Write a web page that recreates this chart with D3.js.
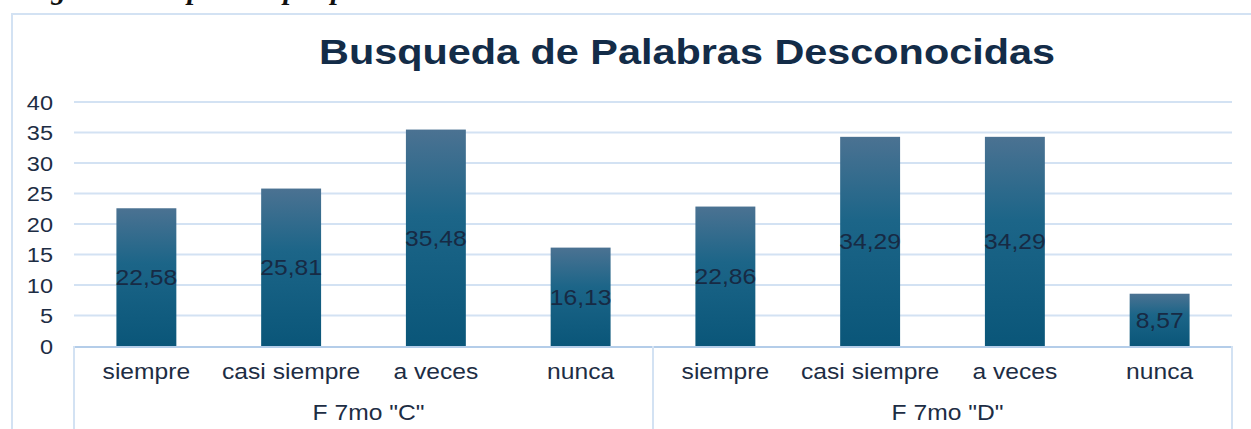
<!DOCTYPE html>
<html lang="es">

<head>
    <meta charset="UTF-8">
    <title>Busqueda de Palabras Desconocidas</title>
    <style>
        body {
            margin: 0;
            background: #fff;
        }
        svg {
            display: block;
        }
    </style>
</head>

<body>
    <script src="https://cdn.jsdelivr.net/npm/d3@7"></script>
    <script>
        // données
        const groupes = ['F 7mo "C"', 'F 7mo "D"']
        const categories = ['siempre', 'casi siempre', 'a veces', 'nunca']
        const valeursC = [22.58, 25.81, 35.48, 16.13]
        const valeursD = [22.86, 34.29, 34.29, 8.57]
        const ticksY = [0, 5, 10, 15, 20, 25, 30, 35, 40]
        const titre = 'Busqueda de Palabras Desconocidas'
        const legendeFigure = 'Figura 5. Respuestas por paralelo'

        const donnees = []
        groupes.forEach((g, gi) => {
            const vals = gi === 0 ? valeursC : valeursD
            categories.forEach((c, ci) => donnees.push({ groupe: g, cat: c, valeur: vals[ci] }))
        })

        const largeur = 1251, hauteur = 429
        const gauche = 74, droite = 1232, bas = 346, haut = 102
        const etirement = 1.12   // le texte de l'image est un peu étiré en largeur
        const couleurTexte = '#1d2d44'
        const couleurGrille = '#d3e2f3'

        const canevas = d3.select('body')
            .append('svg')
            .attr('width', largeur)
            .attr('height', hauteur)

        // dégradé des barres
        const degrade = canevas.append('defs').append('linearGradient')
            .attr('id', 'degrade')
            .attr('x1', 0).attr('y1', 0).attr('x2', 0).attr('y2', 1)
        degrade.append('stop').attr('offset', '0%').attr('stop-color', '#4b7292')
        degrade.append('stop').attr('offset', '40%').attr('stop-color', '#1c6588')
        degrade.append('stop').attr('offset', '100%').attr('stop-color', '#0a5679')

        // échelles
        const echelleY = d3.scaleLinear()
            .domain([0, 40])
            .range([bas, haut])

        const echelleGroupe = d3.scaleBand()
            .domain(groupes)
            .range([gauche, droite])

        const echelleCat = d3.scaleBand()
            .domain(categories)
            .range([0, echelleGroupe.bandwidth()])
            .paddingInner(0.586)
            .paddingOuter(0.293)

        // texte étiré autour de son point d'ancrage
        function placer(sel, x, y, sx) {
            sel.attr('transform', (d, i) => `translate(${x(d, i)},${y(d, i)}) scale(${sx},1)`)
        }

        // cadre du graphique
        canevas.append('rect')
            .attr('x', 12).attr('y', 14)
            .attr('width', 1300).attr('height', 500)
            .attr('fill', 'none')
            .attr('stroke', couleurGrille)
            .attr('stroke-width', 2)

        // légende de la figure (coupée en haut de l'image)
        canevas.append('text')
            .attr('x', 24).attr('y', -1)
            .attr('font-family', 'Liberation Serif, DejaVu Serif, serif')
            .attr('font-weight', 'bold')
            .attr('font-style', 'italic')
            .attr('font-size', 29)
            .attr('fill', '#111')
            .text(legendeFigure)

        // titre
        canevas.append('text')
            .attr('text-anchor', 'middle')
            .attr('font-family', 'Liberation Sans, Arial, sans-serif')
            .attr('font-weight', 'bold')
            .attr('font-size', 36)
            .attr('fill', '#132c48')
            .attr('transform', `translate(687,64) scale(1.15,1)`)
            .text(titre)

        // grille horizontale
        canevas.append('g').selectAll('line')
            .data(ticksY.filter(t => t > 0))
            .enter()
            .append('line')
            .attr('x1', gauche).attr('x2', droite)
            .attr('y1', d => echelleY(d)).attr('y2', d => echelleY(d))
            .attr('stroke', couleurGrille)
            .attr('stroke-width', 2)

        // étiquettes de l'axe Y
        canevas.append('g').selectAll('text')
            .data(ticksY)
            .enter()
            .append('text')
            .attr('text-anchor', 'end')
            .attr('dy', '0.36em')
            .attr('font-family', 'Liberation Sans, Arial, sans-serif')
            .attr('font-size', 21)
            .attr('fill', couleurTexte)
            .call(placer, () => 53, d => echelleY(d), etirement)
            .text(d => d)

        // barres
        const xBarre = d => echelleGroupe(d.groupe) + echelleCat(d.cat)
        canevas.append('g').selectAll('rect')
            .data(donnees)
            .enter()
            .append('rect')
            .attr('x', xBarre)
            .attr('y', d => echelleY(d.valeur))
            .attr('width', echelleCat.bandwidth())
            .attr('height', d => bas - echelleY(d.valeur))
            .attr('fill', 'url(#degrade)')

        // étiquettes de valeurs au milieu des barres
        canevas.append('g').selectAll('text')
            .data(donnees)
            .enter()
            .append('text')
            .attr('text-anchor', 'middle')
            .attr('dy', '0.36em')
            .attr('font-family', 'Liberation Sans, Arial, sans-serif')
            .attr('font-size', 22)
            .attr('fill', '#172a44')
            .call(placer,
                d => xBarre(d) + echelleCat.bandwidth() / 2,
                d => (echelleY(d.valeur) + bas) / 2,
                etirement)
            .text(d => d3.format('.2f')(d.valeur).replace('.', ','))

        // axe X et séparateurs de groupes
        canevas.append('line')
            .attr('x1', gauche).attr('x2', droite)
            .attr('y1', bas + 1).attr('y2', bas + 1)
            .attr('stroke', '#b4cde9')
            .attr('stroke-width', 2)

        const separateurs = groupes.map(g => echelleGroupe(g)).concat([droite])
        canevas.append('g').selectAll('line')
            .data(separateurs)
            .enter()
            .append('line')
            .attr('x1', d => d).attr('x2', d => d)
            .attr('y1', bas).attr('y2', hauteur)
            .attr('stroke', couleurGrille)
            .attr('stroke-width', 2)

        // noms des catégories
        canevas.append('g').selectAll('text')
            .data(donnees)
            .enter()
            .append('text')
            .attr('text-anchor', 'middle')
            .attr('font-family', 'Liberation Sans, Arial, sans-serif')
            .attr('font-size', 22)
            .attr('fill', couleurTexte)
            .call(placer, d => xBarre(d) + echelleCat.bandwidth() / 2, () => 379, etirement)
            .text(d => d.cat)

        // noms des groupes
        canevas.append('g').selectAll('text')
            .data(groupes)
            .enter()
            .append('text')
            .attr('text-anchor', 'middle')
            .attr('font-family', 'Liberation Sans, Arial, sans-serif')
            .attr('font-size', 22)
            .attr('fill', couleurTexte)
            .call(placer, d => echelleGroupe(d) + echelleGroupe.bandwidth() / 2 + 5, () => 420, etirement)
            .text(d => d)
    </script>
</body>

</html>
